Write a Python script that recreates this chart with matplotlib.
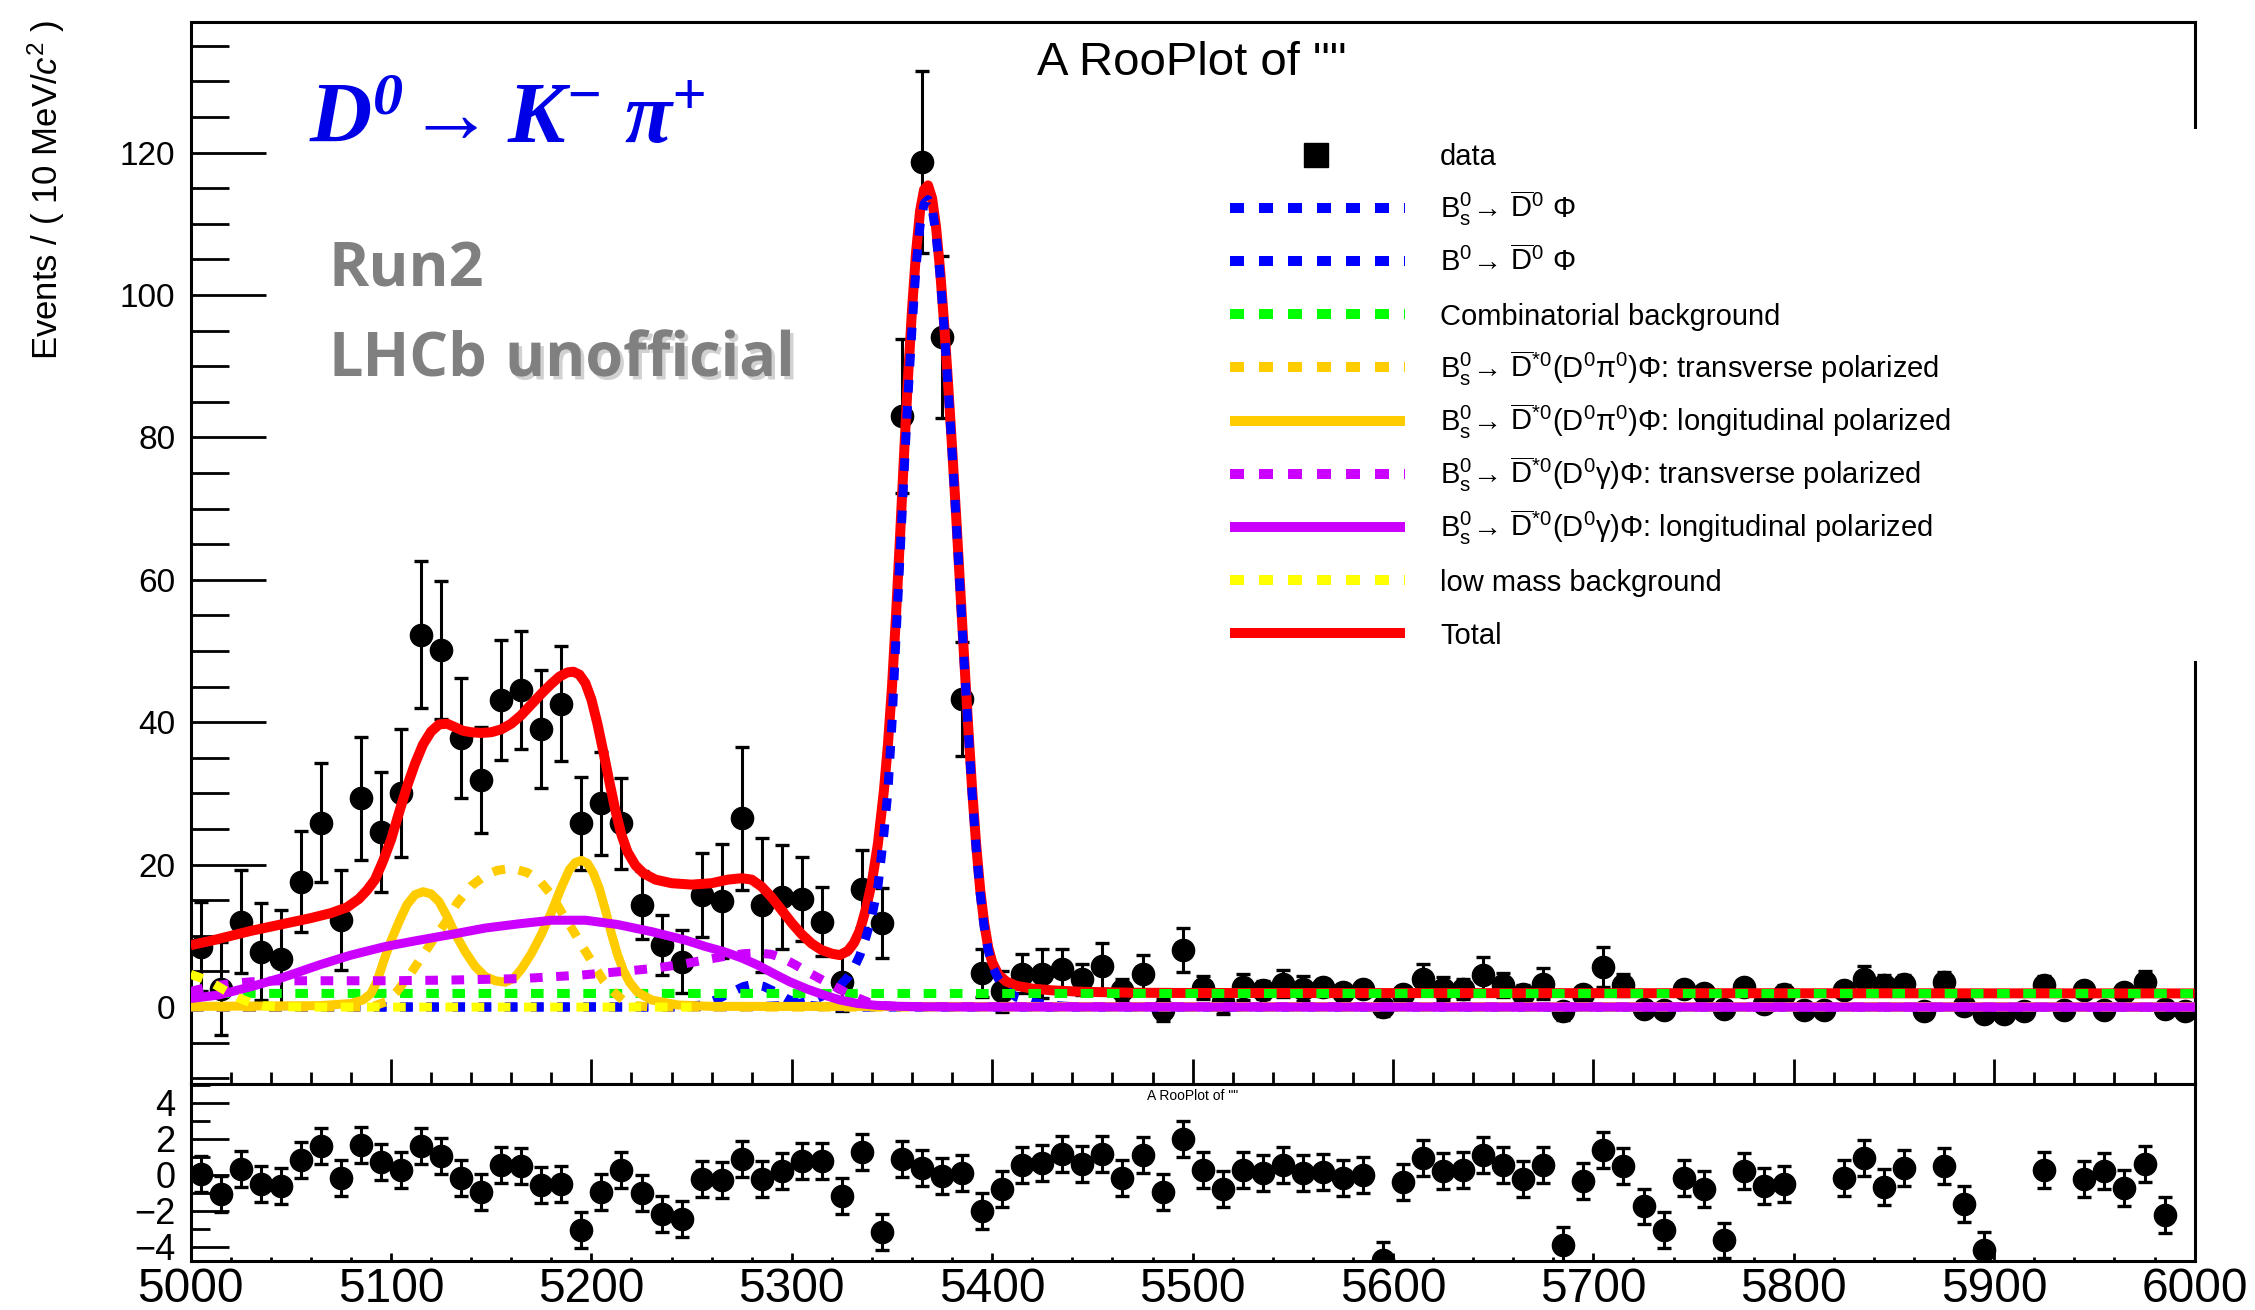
import numpy as np
import matplotlib
matplotlib.use("Agg")
import matplotlib.pyplot as plt
import matplotlib.patheffects as pe
from matplotlib.lines import Line2D
from matplotlib.patches import Rectangle
from matplotlib.ticker import MultipleLocator

plt.rcParams["font.family"] = ["Liberation Sans", "DejaVu Sans"]
plt.rcParams["mathtext.fontset"] = "custom"
plt.rcParams["mathtext.rm"] = "Liberation Sans"
plt.rcParams["mathtext.it"] = "Liberation Sans:italic"
plt.rcParams["mathtext.bf"] = "Liberation Serif:bold:italic"

# ---------------- data (10 MeV bins) ----------------
mass = np.arange(5005, 6000, 10)

events = [8.5, 2.6, 12.0, 7.8, 6.8, 17.6, 25.9, 12.2, 29.3, 24.6,
          30.1, 52.3, 50.1, 37.8, 31.9, 43.1, 44.5, 39.1, 42.6, 25.8,
          28.6, 25.8, 14.3, 8.7, 6.4, 15.7, 14.9, 26.5, 14.3, 15.5,
          15.2, 12.0, 3.5, 16.6, 11.8, 83.0, 118.7, 94.1, 43.3, 4.8,
          2.2, 4.7, 4.7, 5.4, 3.9, 5.8, 2.4, 4.7, -0.4, 8.0,
          2.7, 0.7, 2.8, 2.4, 3.3, 2.6, 2.8, 2.1, 2.6, 0.0,
          1.9, 4.0, 2.6, 2.6, 4.5, 3.1, 1.9, 3.3, -0.6, 1.9,
          5.6, 3.1, -0.2, -0.4, 2.6, 2.0, -0.2, 2.8, 0.4, 1.9,
          -0.4, -0.4, 2.4, 3.9, 3.1, 3.3, -0.6, 3.5, 0.1, -0.9,
          -0.9, -0.6, 3.1, -0.4, 2.4, -0.4, 2.1, 3.5, -0.2, -0.6]

events_err = [6.3, 6.5, 7.2, 6.8, 6.9, 7.1, 8.4, 7.0, 8.6, 8.4,
              9.0, 10.3, 9.7, 8.4, 7.4, 8.4, 8.3, 8.3, 8.1, 6.5,
              7.2, 6.4, 4.8, 4.2, 4.4, 5.9, 8.0, 10.0, 9.4, 7.3,
              5.9, 4.8, 4.0, 5.5, 4.9, 10.8, 12.8, 11.4, 8.0, 3.4,
              2.9, 2.7, 3.4, 2.8, 2.2, 3.2, 1.5, 2.6, 1.6, 3.1,
              1.6, 1.6, 1.8, 1.2, 1.9, 1.8, 1.2, 1.2, 1.0, 1.2,
              1.1, 2.0, 1.6, 1.4, 2.5, 1.7, 1.2, 2.2, 1.2, 1.0,
              2.8, 1.5, 1.0, 1.0, 1.0, 1.0, 1.0, 1.0, 1.0, 1.2,
              1.0, 1.0, 1.0, 1.9, 1.4, 1.2, 1.0, 1.4, 1.0, 1.0,
              1.0, 1.0, 1.2, 1.0, 1.0, 1.0, 1.0, 1.6, 1.0, 1.0]

nan = np.nan
pulls = [0.03, -1.10, 0.31, -0.50, -0.63, 0.84, 1.58, -0.16, 1.64, 0.69,
         0.27, 1.58, 1.03, -0.16, -0.97, 0.56, 0.50, -0.58, -0.54, -3.09,
         -0.97, 0.26, -1.01, -2.20, -2.49, -0.22, -0.31, 0.88, -0.22, 0.22,
         0.78, 0.78, -1.16, 1.26, -3.19, 0.88, 0.35, -0.07, 0.08, -2.00,
         -0.82, 0.54, 0.65, 1.16, 0.59, 1.16, -0.16, 1.07, -0.97, 1.98,
         0.26, -0.78, 0.27, 0.08, 0.56, 0.08, 0.16, -0.16, -0.01, -4.75,
         -0.41, 0.92, 0.22, 0.27, 1.07, 0.54, -0.22, 0.56, -3.90, -0.35,
         1.35, 0.50, -1.77, -3.09, -0.16, -0.82, -3.66, 0.22, -0.63, -0.50,
         nan, nan, -0.16, 0.92, -0.69, 0.37, nan, 0.50, -1.62, -4.19,
         nan, nan, 0.27, nan, -0.26, 0.22, -0.73, 0.60, -2.24, nan]

# ---------------- fit components ----------------
tot_x = [5000, 5010, 5020, 5030, 5040, 5050, 5060, 5070, 5078, 5084,
         5088, 5092, 5096, 5100, 5104, 5108, 5112, 5116, 5120, 5124,
         5128, 5132, 5136, 5140, 5145, 5150, 5155, 5160, 5165, 5170,
         5175, 5180, 5184, 5188, 5191, 5194, 5197, 5200, 5203, 5206,
         5209, 5212, 5215, 5218, 5222, 5226, 5232, 5240, 5250, 5260,
         5268, 5275, 5280, 5285, 5290, 5295, 5300, 5305, 5310, 5315,
         5320, 5324, 5328, 5331, 5334, 5337, 5340, 5343, 5346, 5348,
         5350, 5352, 5354, 5356, 5358, 5360, 5362, 5364, 5366, 5368,
         5370, 5372, 5374, 5376, 5378, 5380, 5382, 5384, 5386, 5388,
         5390, 5392, 5394, 5396, 5398, 5400, 5403, 5407, 5412, 5420,
         5430, 5445, 5470, 5500, 6000]
tot_y = [8.7, 9.3, 10.0, 10.7, 11.3, 11.9, 12.5, 13.2, 14.0, 15.2,
         16.4, 17.9, 20.5, 23.5, 27.3, 31.0, 34.2, 36.9, 38.7, 39.7,
         39.8, 39.3, 38.8, 38.6, 38.5, 38.6, 39.0, 39.8, 41.0, 42.5,
         44.0, 45.4, 46.4, 47.0, 47.1, 46.7, 45.5, 43.2, 39.8, 35.8,
         31.6, 27.6, 24.2, 21.8, 19.9, 18.8, 17.9, 17.4, 17.2, 17.4,
         17.9, 18.1, 17.9, 16.9, 15.4, 13.6, 11.8, 10.2, 8.9, 8.0,
         7.5, 7.3, 7.9, 9.0, 10.8, 13.8, 17.6, 23.0, 30.5, 37.0,
         45.0, 55.0, 66.0, 77.5, 88.5, 98.0, 106.0, 111.8, 114.8, 115.4,
         113.6, 109.5, 103.5, 96.0, 87.5, 78.5, 69.0, 59.0, 49.0, 39.5,
         30.5, 22.8, 16.5, 11.8, 8.4, 6.3, 4.6, 3.6, 3.0, 2.6,
         2.35, 2.15, 2.02, 1.98, 1.92]

bs_x = [5000, 5280, 5290, 5300, 5310, 5318, 5324, 5328, 5331, 5334,
        5337, 5340, 5343, 5346, 5348, 5350, 5352, 5354, 5356, 5358,
        5360, 5362, 5364, 5366, 5368, 5370, 5372, 5374, 5376, 5378,
        5380, 5382, 5384, 5386, 5388, 5390, 5392, 5394, 5396, 5398,
        5400, 5403, 5407, 5412, 5420, 5430, 5440, 6000]
bs_y = [0, 0.05, 0.15, 0.3, 0.9, 1.9, 3.0, 4.2, 5.5, 7.3,
        9.8, 12.8, 17.0, 24.5, 30.5, 40.0, 52.0, 63.5, 75.0, 86.0,
        95.5, 104.0, 109.8, 112.8, 113.4, 112.2, 108.5, 102.8, 95.4, 87.0,
        78.0, 68.5, 58.5, 48.5, 39.0, 30.0, 22.3, 16.0, 11.3, 8.0,
        5.8, 4.0, 2.4, 1.4, 0.7, 0.25, 0.05, 0]

b0_x = [5000, 5245, 5255, 5262, 5270, 5276, 5281, 5286, 5292, 5298, 5305, 5315, 5330, 6000]
b0_y = [0, 0, 0.3, 1.0, 2.1, 2.9, 3.2, 2.9, 2.1, 1.1, 0.4, 0.05, 0, 0]

comb_x = [5000, 6000]
comb_y = [1.92, 1.90]

dpi0_t_x = [5000, 5090, 5098, 5103, 5110, 5115, 5120, 5127, 5133, 5140,
            5147, 5153, 5158, 5163, 5168, 5174, 5180, 5186, 5191, 5196,
            5201, 5206, 5210, 5216, 5222, 5230, 6000]
dpi0_t_y = [0, 0, 0.8, 2.2, 4.8, 6.9, 9.0, 11.8, 14.6, 17.0,
            18.5, 19.2, 19.4, 19.3, 18.9, 17.8, 15.8, 12.9, 10.7, 8.3,
            6.0, 3.7, 2.4, 0.9, 0.2, 0, 0]

dpi0_l_x = [5000, 5064, 5080, 5086, 5090, 5093, 5097, 5100, 5104, 5108,
            5112, 5116, 5120, 5124, 5128, 5132, 5137, 5142, 5147, 5152,
            5157, 5161, 5165, 5170, 5175, 5180, 5185, 5189, 5192, 5195,
            5198, 5201, 5204, 5207, 5210, 5213, 5216, 5219, 5223, 5230,
            5243, 5260, 6000]
dpi0_l_y = [0.1, 0.2, 0.5, 1.0, 1.9, 3.6, 7.0, 9.3, 12.0, 14.4,
            15.8, 16.2, 15.9, 14.8, 12.7, 10.3, 7.8, 5.7, 4.3, 3.7,
            3.5, 4.0, 5.3, 7.5, 10.2, 13.3, 16.8, 19.3, 20.3, 20.6,
            20.2, 18.8, 16.6, 13.6, 10.3, 7.4, 5.1, 3.5, 2.1, 1.0,
            0.3, 0.1, 0.05]

dgam_t_x = [5000, 5010, 5020, 5030, 5045, 5100, 5130, 5165, 5195, 5215,
            5230, 5245, 5258, 5268, 5276, 5283, 5290, 5296, 5302, 5308,
            5314, 5320, 5326, 5332, 5338, 5345, 5355, 6000]
dgam_t_y = [2.2, 2.9, 3.3, 3.55, 3.7, 3.7, 3.8, 4.0, 4.5, 5.0,
            5.4, 6.0, 6.7, 7.2, 7.5, 7.6, 7.4, 6.8, 5.9, 4.9,
            4.0, 3.1, 2.2, 1.4, 0.7, 0.25, 0.05, 0]

dgam_l_x = [5000, 5014, 5030, 5047, 5064, 5080, 5097, 5114, 5130, 5147,
            5164, 5180, 5197, 5213, 5230, 5247, 5257, 5266, 5275, 5283,
            5291, 5299, 5308, 5316, 5324, 5333, 5342, 5352, 5365, 5380, 6000]
dgam_l_y = [1.2, 1.7, 2.85, 4.25, 5.9, 7.3, 8.5, 9.4, 10.2, 11.1,
            11.7, 12.2, 12.2, 11.6, 10.6, 9.4, 8.5, 7.8, 6.9, 5.9,
            4.7, 3.55, 2.5, 1.7, 1.0, 0.5, 0.25, 0.12, 0.05, 0.02, 0.0]

lowm_x = [5000, 5006, 5012, 5018, 5024, 5030, 5036, 5045, 5060, 5250]
lowm_y = [4.6, 4.0, 3.2, 2.2, 1.3, 0.6, 0.2, 0.05, 0, 0]

# ---------------- figure layout ----------------
W, H = 2255, 1310
fig = plt.figure(figsize=(W / 100, H / 100), dpi=100)


def fx(px):
    return px / W


def fy(py):
    return 1 - py / H


x0, x1 = 190.6, 2194.6
ax = fig.add_axes([fx(x0), fy(1084), (x1 - x0) / W, (1084 - 21.6) / H])
axp = fig.add_axes([fx(x0), fy(1261), (x1 - x0) / W, (1261 - 1084) / H])

LW = 6.5
DASH = (0, (1.4, 1.5))
BLUE, GREEN, ORANGE = "#0000ff", "#00ff00", "#ffcc00"
VIOLET, YELLOW, RED = "#cc00ff", "#ffff00", "#ff0000"

# data points
ax.errorbar(mass, events, yerr=events_err, fmt="o", color="black", ms=16,
            elinewidth=2.2, capsize=4.7, capthick=2.4, zorder=2)

# curves
ax.plot(tot_x, tot_y, color=RED, lw=7.2, solid_capstyle="butt", zorder=3)
curves = [
    (bs_x, bs_y, BLUE, DASH),
    (b0_x, b0_y, BLUE, DASH),
    (comb_x, comb_y, GREEN, DASH),
    (dpi0_t_x, dpi0_t_y, ORANGE, DASH),
    (dpi0_l_x, dpi0_l_y, ORANGE, "-"),
    (dgam_t_x, dgam_t_y, VIOLET, DASH),
    (dgam_l_x, dgam_l_y, VIOLET, "-"),
    (lowm_x, lowm_y, YELLOW, DASH),
]
for i, (cx, cy, col, ls) in enumerate(curves):
    ax.plot(cx, cy, color=col, lw=LW, linestyle=ls, dash_capstyle="butt",
            solid_capstyle="butt", zorder=4 + i)

ax.set_xlim(5000, 6000)
ax.set_ylim(-10.8, 138.4)
ax.set_yticks(np.arange(0, 121, 20))
ax.yaxis.set_minor_locator(MultipleLocator(5))
ax.xaxis.set_major_locator(MultipleLocator(100))
ax.xaxis.set_minor_locator(MultipleLocator(20))
ax.tick_params(axis="y", which="major", direction="in", length=54, width=2,
               labelsize=24, pad=11)
ax.tick_params(axis="y", which="minor", direction="in", length=27, width=2)
ax.tick_params(axis="x", which="major", direction="in", length=18, width=2,
               labelbottom=False)
ax.tick_params(axis="x", which="minor", direction="in", length=9, width=2)
for s in ax.spines.values():
    s.set_linewidth(2.2)

fig.text(fx(1192), fy(75), 'A RooPlot of ""', ha="center", va="baseline",
         fontsize=34)

# pull pad
axp.errorbar(mass, pulls, yerr=1, fmt="o", color="black", ms=16,
             elinewidth=2.2, capsize=4.7, capthick=2.4)
axp.set_xlim(5000, 6000)
axp.set_ylim(-4.8, 5.04)
axp.set_yticks([-4, -2, 0, 2, 4])
axp.yaxis.set_minor_locator(MultipleLocator(1))
axp.xaxis.set_major_locator(MultipleLocator(100))
axp.xaxis.set_minor_locator(MultipleLocator(20))
axp.tick_params(axis="y", which="major", direction="in", length=27, width=2,
                labelsize=26, pad=11)
axp.tick_params(axis="y", which="minor", direction="in", length=14, width=2)
axp.tick_params(axis="x", which="major", direction="in", length=6, width=2,
                labelsize=34.5, pad=4)
axp.tick_params(axis="x", which="minor", direction="in", length=3, width=2)
for s in axp.spines.values():
    s.set_linewidth(2.2)
fig.text(fx(1193), fy(1096), 'A RooPlot of ""', ha="center", va="center",
         fontsize=10)

fig.text(fx(46), fy(20), r"Events / ( 10 MeV/$c^{2}$ )", rotation=90,
         ha="center", va="top", fontsize=25)

# legend
fig.add_artist(Rectangle((fx(1200), fy(661)), fx(2205) - fx(1200),
                         fy(129) - fy(661), transform=fig.transFigure,
                         facecolor="white", edgecolor="none", zorder=5))
labels = [
    "data",
    r"$\mathrm{B_s^0\!\rightarrow\!\ \overline{D}^{0}\ \Phi}$",
    r"$\mathrm{B^0\!\rightarrow\!\ \overline{D}^{0}\ \Phi}$",
    "Combinatorial background",
    r"$\mathrm{B_s^0\!\rightarrow\!\ \overline{D}^{*0}(D^0\pi^0)\Phi}$: transverse polarized",
    r"$\mathrm{B_s^0\!\rightarrow\!\ \overline{D}^{*0}(D^0\pi^0)\Phi}$: longitudinal polarized",
    r"$\mathrm{B_s^0\!\rightarrow\!\ \overline{D}^{*0}(D^0\gamma)\Phi}$: transverse polarized",
    r"$\mathrm{B_s^0\!\rightarrow\!\ \overline{D}^{*0}(D^0\gamma)\Phi}$: longitudinal polarized",
    "low mass background",
    "Total",
]
styles = [None, (BLUE, DASH), (BLUE, DASH), (GREEN, DASH), (ORANGE, DASH),
          (ORANGE, "-"), (VIOLET, DASH), (VIOLET, "-"), (YELLOW, DASH),
          (RED, "-")]
for i, (lab, st) in enumerate(zip(labels, styles)):
    row = 154.5 + i * 53.2
    if st is None:
        fig.add_artist(Line2D([fx(1316)], [fy(row)], marker="s", ms=17,
                              color="black", linestyle="none",
                              transform=fig.transFigure, zorder=6))
    else:
        fig.add_artist(Line2D([fx(1230), fx(1405)], [fy(row), fy(row)],
                              color=st[0], lw=7.2, linestyle=st[1],
                              dash_capstyle="butt", solid_capstyle="butt",
                              transform=fig.transFigure, zorder=6))
    fig.text(fx(1440), fy(row + 10.5), lab, ha="left", va="baseline",
             fontsize=21, zorder=7)

# decay and labels
fig.text(fx(309), fy(142.7),
         r"$\mathbf{D^{0}\!\rightarrow K^{-}\;\pi^{+}}$",
         ha="left", va="baseline", fontsize=62, color="#0000e6")
grey = "#808080"
fig.text(fx(328), fy(287), "Run2", ha="left", va="baseline", fontsize=44,
         family="Open Sans", weight="bold", color=grey)
fig.text(fx(328), fy(376), "LHCb", ha="left", va="baseline", fontsize=44,
         family="Open Sans", weight="bold", color=grey)
fig.text(fx(505), fy(376), "unofficial", ha="left", va="baseline",
         fontsize=44, family="Open Sans", weight="bold", color=grey,
         path_effects=[pe.withSimplePatchShadow(offset=(2.5, -2.5),
                                                shadow_rgbFace="#999999",
                                                alpha=0.45)])

fig.savefig("out.png", dpi=100)
